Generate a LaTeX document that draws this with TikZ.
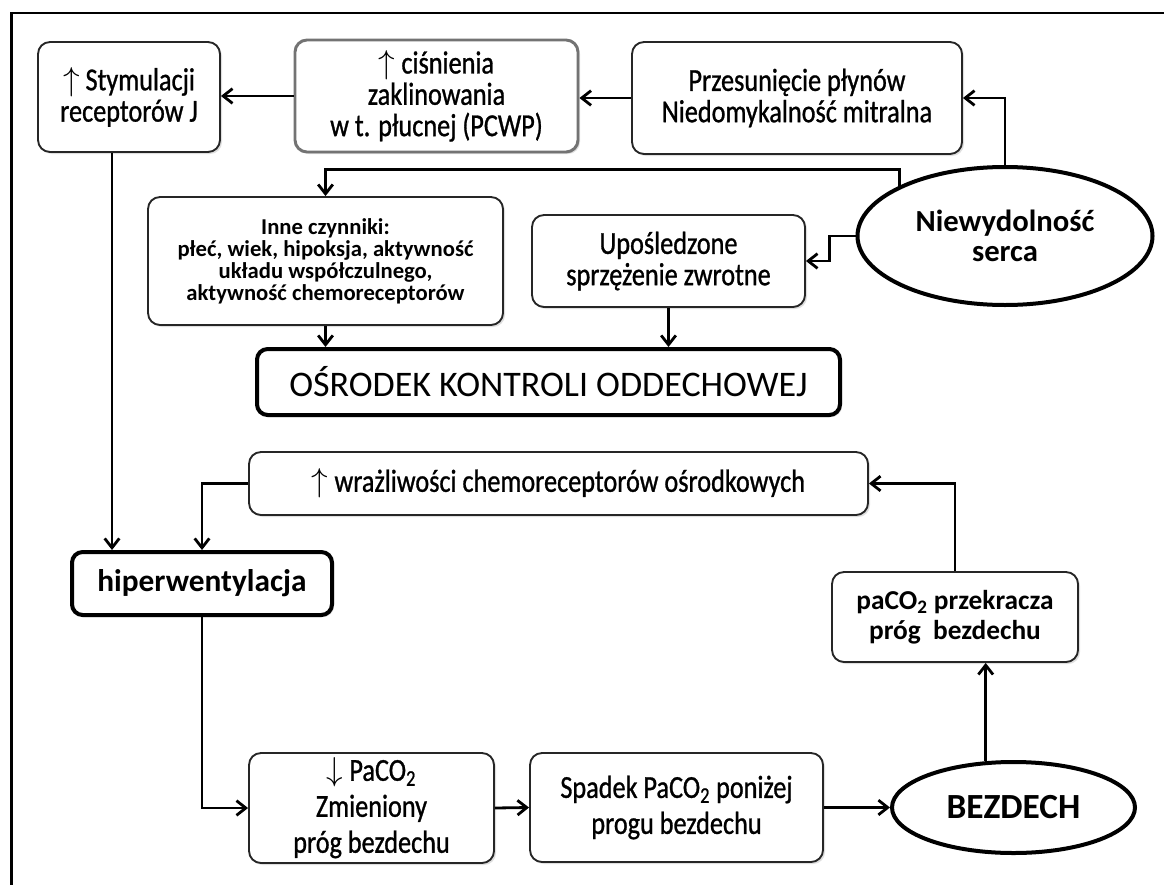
\documentclass[tikz,border=0pt]{standalone}
\usepackage{fontspec}
\setmainfont{Carlito}
\newfontfamily\narrow{Carlito}[FakeStretch=0.82, FakeBold=0.9]
\usetikzlibrary{arrows.meta,shapes.geometric,shadows}

\tikzset{
  wh/.style 2 args={minimum width=#1*0.75pt, minimum height=#2*0.75pt},
  box/.style={draw=black!85, line width=1.4pt, rounded corners=9pt, fill=white,
    align=center, inner sep=2pt, font=\narrow\fontsize{24}{23.5}\selectfont,
    drop shadow={opacity=0.25, shadow xshift=1.5pt, shadow yshift=-1.5pt}},
  loosebox/.style={box, font=\narrow\fontsize{24}{27}\selectfont},
  thickbox/.style={box, draw=black, line width=3pt, rounded corners=8pt},
  oval/.style={draw, ellipse, line width=3pt, fill=white, align=center, inner sep=0pt},
  link/.style={line width=2.1pt, -{Straight Barb[length=7pt, width=11pt]}},
}

\begin{document}
\begin{tikzpicture}[x=0.75pt, y=-0.75pt]

    \useasboundingbox[fill=white] (0,0) rectangle (1164,885);
    \draw[line width=2.2pt] (11.5,900) -- (11.5,13) -- (1180,13);

    % plain boxes: name / x / y / width / height / text (pixels)
    \foreach \name/\x/\y/\w/\h/\txt in {
        stym/129/97/182/110/{$\uparrow$ Stymulacji\\receptorów J},
        przes/797/98/330/112/{Przesunięcie płynów\\Niedomykalność mitralna},
        upos/668.5/261/273/92/{Upośledzone\\sprzężenie zwrotne},
        wraz/558.5/483.5/619/63/{$\uparrow$ wrażliwości chemoreceptorów ośrodkowych}}
    {
      \node[box, wh={\w}{\h}] (\name) at (\x,\y) {\txt};
    }
    \node[loosebox, wh={245}{110}] (down) at (371.5,808)
      {$\downarrow$ PaCO\textsubscript{2}\\Zmieniony\\próg bezdechu};
    \node[loosebox, wh={293}{109}] (spadek) at (676.5,807.5)
      {Spadek PaCO\textsubscript{2} poniżej\\progu bezdechu};

    \node[box, wh={283}{112}, draw=black!55, line width=2.2pt] (pcwp) at (436.5,96)
      {$\uparrow$ ciśnienia\\zaklinowania\\w t. płucnej (PCWP)};
    \node[box, wh={355}{128}, font=\bfseries\fontsize{17}{16.5}\selectfont] (inne) at (325.5,261)
      {Inne czynniki:\\płeć, wiek, hipoksja, aktywność\\układu współczulnego,\\aktywność chemoreceptorów};
    \node[box, wh={246}{90}, font=\bfseries\fontsize{20.5}{22.5}\selectfont] (prz) at (955,617)
      {paCO\textsubscript{2} przekracza\\próg \ bezdechu};
    \node[thickbox, wh={583}{66}, font=\fontsize{27}{30}\selectfont] (osr) at (548.5,382)
      {OŚRODEK KONTROLI ODDECHOWEJ};
    \node[thickbox, wh={260}{63}, font=\bfseries\fontsize{23.5}{26}\selectfont] (hiper) at (202,583.5)
      {hiperwentylacja};
    \node[oval, wh={295}{138}, font=\bfseries\fontsize{23}{23}\selectfont] (niew) at (1005,236)
      {Niewydolność\\serca};
    \node[oval, wh={243}{91}, font=\bfseries\fontsize{26.5}{28}\selectfont] (bez) at (1013.5,807.5)
      {BEZDECH};

    \draw[link] (przes.west) -- (przes.west -| pcwp.east);
    \draw[link] (pcwp.west) -- (pcwp.west -| stym.east);
    \draw[link] (niew.north) |- (przes.east);
    \draw[link] (niew.north west) -- ++(0,-16) -| (inne.north);
    \draw[link] (niew.west) -- ++(-26,0) |- (upos.east);
    \draw[link] (inne.south) -- (inne.south |- osr.north);
    \draw[link] (upos.south) -- (upos.south |- osr.north);
    \coordinate (drop) at ([xshift=-12.75pt]stym.south);
    \draw[link] (drop) -- (drop |- hiper.north);
    \draw[link] (wraz.west) -| (hiper.north);
    \draw[link] (hiper.south) |- (down.west);
    \draw[link] (down.east) -- (spadek.west);
    \draw[link] (spadek.east) -- (spadek.east -| bez.west);
    \draw[link] (bez.121) -- (bez.121 |- prz.south);
    \draw[link] (prz.north) |- (wraz.east);
\end{tikzpicture}
\end{document}
